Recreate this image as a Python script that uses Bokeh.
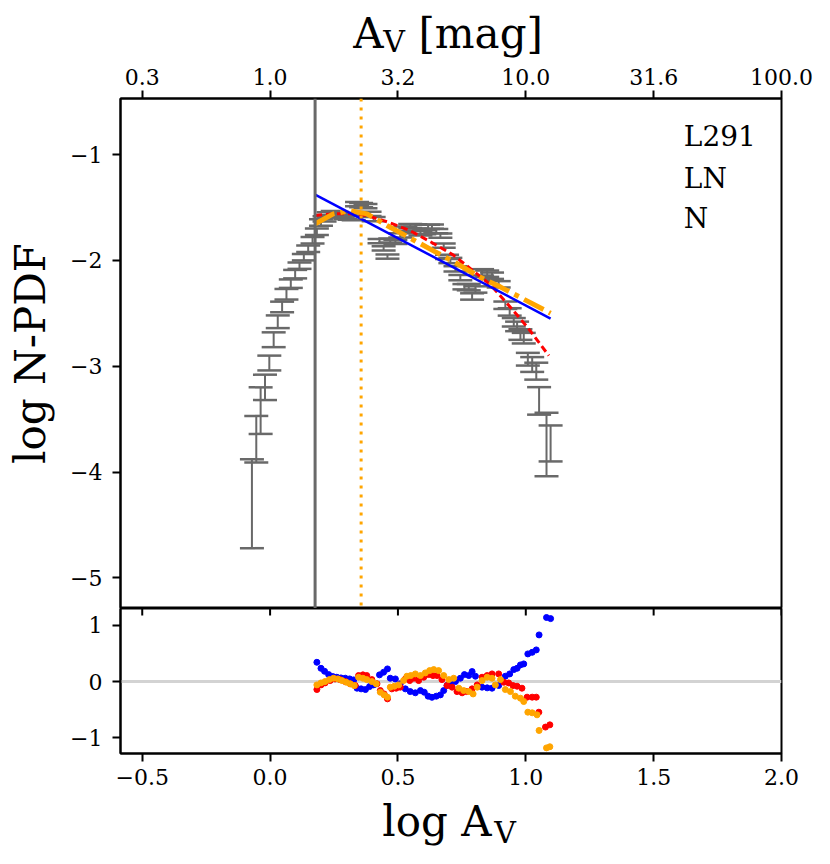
import math
from bokeh.plotting import figure
from bokeh.layouts import column
from bokeh.models import (ColumnDataSource, Range1d, Span, Label,
                          FixedTicker, Whisker, TeeHead)
from bokeh.embed import file_html
from bokeh.resources import INLINE

# ---------------- data ----------------
pdf_x = [-0.071, -0.054, -0.037, -0.020, -0.003, 0.014, 0.030, 0.047, 0.064, 0.081,
         0.098, 0.115, 0.132, 0.149, 0.166,
         0.183, 0.199, 0.213, 0.229, 0.245, 0.261, 0.277, 0.294, 0.311, 0.327,
         0.340, 0.356, 0.373, 0.389, 0.405, 0.428, 0.444, 0.459, 0.470, 0.490,
         0.509, 0.529, 0.548, 0.568, 0.588, 0.603, 0.618, 0.633, 0.650, 0.666,
         0.679, 0.692, 0.705, 0.725, 0.744, 0.760, 0.777, 0.790, 0.803, 0.829,
         0.849, 0.868, 0.894, 0.920, 0.937, 0.953, 0.966, 0.979, 0.992, 1.008,
         1.025, 1.041, 1.052, 1.081, 1.097]
pdf_y = [-4.30, -3.69, -3.42, -3.20, -2.97, -2.75, -2.58, -2.44, -2.32, -2.22,
         -2.13, -2.05, -1.97, -1.89, -1.81,
         -1.729, -1.642, -1.607, -1.569, -1.554, -1.563, -1.571, -1.588, -1.597, -1.600,
         -1.469, -1.477, -1.487, -1.561, -1.611, -1.819, -1.886, -1.964, -1.812, -1.826,
         -1.763, -1.699, -1.675, -1.679, -1.744, -1.734, -1.683, -1.682, -1.724, -1.767,
         -1.861, -1.967, -2.001, -2.080, -2.163, -2.249, -2.253, -2.341, -2.275, -2.113,
         -2.126, -2.145, -2.226, -2.424, -2.487, -2.585, -2.624, -2.701, -2.735, -2.934,
         -2.984, -3.047, -3.328, -3.740, -3.730]
pdf_err = [0.42, 0.22, 0.22, 0.12, 0.07, 0.07, 0.06, 0.05, 0.05, 0.04,
           0.04, 0.03, 0.03, 0.03, 0.03,
           0.03, 0.03, 0.025, 0.025, 0.02, 0.02, 0.02, 0.02, 0.02, 0.02,
           0.02, 0.02, 0.02, 0.02, 0.02, 0.02, 0.02, 0.02, 0.02, 0.02,
           0.02, 0.02, 0.02, 0.02, 0.02, 0.02, 0.02, 0.02, 0.02, 0.02,
           0.02, 0.02, 0.025, 0.025, 0.025, 0.025, 0.03, 0.03, 0.03, 0.03,
           0.03, 0.03, 0.03, 0.035, 0.035, 0.04, 0.045, 0.05, 0.05, 0.06,
           0.07, 0.08, 0.13, 0.30, 0.17]

# fitted models
ln_x = [0.176, 0.247, 0.313, 0.379, 0.47, 0.548, 0.639, 0.717, 0.795, 0.862, 0.928, 1.006, 1.09]
ln_y = [-1.575, -1.56, -1.558, -1.576, -1.645, -1.72, -1.84, -1.95, -2.10, -2.23, -2.41, -2.63, -2.90]

lnpl_x = [0.176, 0.247, 0.313, 0.379, 0.457, 0.548, 0.639, 0.731, 0.822, 0.90, 0.979, 1.097]
lnpl_y = [-1.655, -1.56, -1.53, -1.56, -1.67, -1.79, -1.91, -2.03, -2.16, -2.25, -2.35, -2.50]

pl_x = [0.176, 1.097]
pl_y = [-1.378, -2.55]

threshold = 0.176
peak = 0.356

# residuals
res_blue_x = pdf_x[15:]
res_blue_y = [0.343, 0.236, 0.183, 0.124, 0.089, 0.077, 0.065, 0.06, 0.047, 0.03,
              -0.118, -0.13, -0.142, -0.089, -0.059, 0.119, 0.166, 0.225, 0.059, 0.047,
              -0.04, -0.13, -0.178, -0.2, -0.16, -0.19, -0.26, -0.28, -0.26, -0.237,
              -0.16, -0.07, -0.053, 0.0, 0.059, 0.124, 0.107, 0.178, 0.095, -0.1,
              -0.112, -0.118, -0.07, 0.095, 0.136, 0.213, 0.236, 0.296, 0.314, 0.492,
              0.52, 0.563, 0.83, 1.14, 1.12]

res_red_x = [0.183, 0.199, 0.215, 0.235, 0.254, 0.274, 0.294, 0.313, 0.333, 0.346,
             0.363, 0.378, 0.398, 0.418, 0.431, 0.446, 0.459, 0.476, 0.493, 0.509,
             0.529, 0.546, 0.562, 0.581, 0.601, 0.620, 0.637, 0.653, 0.672, 0.692,
             0.712, 0.731, 0.751, 0.768, 0.790, 0.810, 0.829, 0.849, 0.868, 0.894,
             0.914, 0.933, 0.950, 0.966, 0.985, 1.005, 1.025, 1.041, 1.051, 1.077, 1.094]
res_red_y = [-0.142, -0.059, -0.024, 0.018, 0.047, 0.035, 0.0, -0.04, -0.071, 0.107,
             0.119, 0.107, 0.035, -0.04, -0.16, -0.22, -0.308, -0.13, -0.118, -0.1,
             0.047, 0.018, 0.059, 0.018, 0.077, 0.124, 0.107, 0.107, 0.035, -0.071,
             -0.1, -0.178, -0.2, -0.178, -0.13, -0.059, 0.077, 0.107, 0.136, 0.136,
             -0.012, -0.024, -0.071, -0.083, -0.118, -0.278, -0.278, -0.278, -0.545, -0.81, -0.77]

res_orange_x = [0.183, 0.199, 0.215, 0.232, 0.248, 0.265, 0.281, 0.298, 0.313, 0.329,
                0.346, 0.363, 0.378, 0.398, 0.415, 0.431, 0.446, 0.459, 0.470, 0.486,
                0.503, 0.522, 0.535, 0.550, 0.568, 0.588, 0.607, 0.624, 0.640, 0.659,
                0.679, 0.699, 0.718, 0.738, 0.757, 0.777, 0.794, 0.810, 0.829, 0.849,
                0.868, 0.881, 0.901, 0.920, 0.940, 0.959, 0.979, 0.992, 1.008, 1.025,
                1.044, 1.052, 1.081, 1.094]
res_orange_y = [-0.059, -0.024, 0.0, 0.035, 0.059, 0.047, 0.018, -0.012, -0.04, -0.071,
                0.077, 0.059, 0.035, 0.0, -0.04, -0.19, -0.237, -0.278, -0.1, -0.083,
                -0.059, 0.018, 0.095, 0.107, 0.136, 0.107, 0.154, 0.195, 0.213, 0.195,
                0.107, 0.035, 0.059, -0.118, -0.16, -0.178, -0.22, -0.1, 0.018, 0.077,
                0.059, -0.059, 0.035, -0.142, -0.178, -0.26, -0.296, -0.355, -0.545, -0.556,
                -0.592, -0.87, -1.18, -1.16]

x_ticks = [-0.5, 0.0, 0.5, 1.0, 1.5, 2.0]
x_tick_labels = ["\u22120.5", "0.0", "0.5", "1.0", "1.5", "2.0"]
top_tick_labels = ["0.3", "1.0", "3.2", "10.0", "31.6", "100.0"]
y_ticks = [-5, -4, -3, -2, -1]
y_tick_labels = ["\u22125", "\u22124", "\u22123", "\u22122", "\u22121"]
r_ticks = [-1, 0, 1]
r_tick_labels = ["\u22121", "0", "1"]
notes = ["L291", "LN", "N"]

# ---------------- style ----------------
FONT = "DejaVu Serif"
TICK_FS = "22px"
LAB_FS = "42px"
SUB_FS = "30px"
GRAY = "#696969"
W = 822
BL, BR = 120, 41


def style_axis(ax, ticks, labels, standoff=8):
    ax.ticker = FixedTicker(ticks=ticks)
    ax.major_label_overrides = {t: l for t, l in zip(ticks, labels)}
    ax.major_label_text_font = FONT
    ax.major_label_text_font_size = TICK_FS
    ax.major_label_text_color = "black"
    ax.major_label_standoff = standoff
    ax.major_tick_in = 0
    ax.major_tick_out = 8
    ax.major_tick_line_width = 2
    ax.major_tick_line_color = "black"
    ax.minor_tick_line_color = None
    ax.axis_line_width = 2
    ax.axis_line_color = "black"


def base_fig(height, y_range, **kw):
    p = figure(width=W, height=height, x_range=x_range, y_range=y_range,
               output_backend="svg", toolbar_location=None,
               min_border_left=BL, min_border_right=BR, **kw)
    p.grid.visible = False
    p.background_fill_color = "white"
    p.border_fill_color = "white"
    return p


def text_label(p, x, y, txt, size):
    p.add_layout(Label(x=x, y=y, text=txt, text_font=FONT, text_font_size=size,
                       text_color="black", text_baseline="alphabetic", text_align="left"))


x_range = Range1d(-0.585, 2.0)

# ---------------- top title strip ----------------
TOP_H = 59
ptop = base_fig(TOP_H, Range1d(0, TOP_H), x_axis_location=None, y_axis_location=None,
                min_border_top=0, min_border_bottom=0)
ptop.outline_line_color = None
text_label(ptop, 0.325, 26, "A", LAB_FS)
text_label(ptop, 0.443, 18.5, "V", SUB_FS)
text_label(ptop, 0.58, 26, "[mag]", LAB_FS)

# ---------------- main panel ----------------
p1 = base_fig(608 - TOP_H, Range1d(-5.29, -0.47), x_axis_location="above",
              min_border_top=98 - TOP_H, min_border_bottom=0)
p1.outline_line_color = "black"
p1.outline_line_width = 2
style_axis(p1.xaxis[0], x_ticks, top_tick_labels, standoff=6)
p1.xaxis.major_label_text_line_height = 1.0
style_axis(p1.yaxis[0], y_ticks, y_tick_labels, standoff=10)
p1.yaxis.axis_label = "log N-PDF"
p1.yaxis.axis_label_text_font = FONT
p1.yaxis.axis_label_text_font_size = LAB_FS
p1.yaxis.axis_label_text_font_style = "normal"
p1.yaxis.axis_label_text_color = "black"
p1.yaxis.axis_label_standoff = 12

lo = [y - e for y, e in zip(pdf_y, pdf_err)]
hi = [y + e for y, e in zip(pdf_y, pdf_err)]
src = ColumnDataSource(dict(x=pdf_x, lo=lo, hi=hi))
wh = Whisker(source=src, base="x", lower="lo", upper="hi", dimension="height",
             line_color=GRAY, line_width=2,
             upper_head=TeeHead(size=24, line_color=GRAY, line_width=2.5),
             lower_head=TeeHead(size=24, line_color=GRAY, line_width=2.5))
p1.add_layout(wh)

p1.line(ln_x, ln_y, line_color="red", line_width=3, line_dash="7 4")
p1.line(lnpl_x, lnpl_y, line_color="orange", line_width=5, line_dash="22 6 5 6")
p1.line(pl_x, pl_y, line_color="blue", line_width=2.5)

p1.add_layout(Span(location=threshold, dimension="height", line_color=GRAY, line_width=3))
p1.add_layout(Span(location=peak, dimension="height", line_color="orange",
                   line_width=3, line_dash="3 6"))

for txt, yy in zip(notes, [-0.83, -1.226, -1.606]):
    text_label(p1, 1.618, yy, txt, "28px")

# ---------------- residual panel ----------------
P2_BOTTOM = 42
p2 = base_fig(145 + P2_BOTTOM, Range1d(-1.28, 1.30),
              min_border_top=0, min_border_bottom=P2_BOTTOM)
p2.outline_line_color = "black"
p2.outline_line_width = 2
style_axis(p2.xaxis[0], x_ticks, x_tick_labels, standoff=7)
style_axis(p2.yaxis[0], r_ticks, r_tick_labels, standoff=10)

# inward ticks along the shared boundary (upper half clipped by the frame)
p2.scatter(x_ticks, [p2.y_range.end] * len(x_ticks), marker="dash", angle=math.pi / 2,
           size=14, line_color="black", line_width=2)

p2.add_layout(Span(location=0, dimension="width", line_color="lightgray",
                   line_width=3, level="underlay"))
p2.scatter(res_blue_x, res_blue_y, size=6, color="blue")
p2.scatter(res_red_x, res_red_y, size=6, color="red")
p2.scatter(res_orange_x, res_orange_y, size=6, color="orange")

# ---------------- bottom title strip ----------------
BOT_H = 61
pbot = base_fig(BOT_H, Range1d(0, BOT_H), x_axis_location=None, y_axis_location=None,
                min_border_top=0, min_border_bottom=0)
pbot.outline_line_color = None
text_label(pbot, 0.439, 35, "log A", LAB_FS)
text_label(pbot, 0.877, 24.5, "V", SUB_FS)

layout = column(ptop, p1, p2, pbot, spacing=0)
open("out.html", "w").write(file_html(layout, INLINE))
